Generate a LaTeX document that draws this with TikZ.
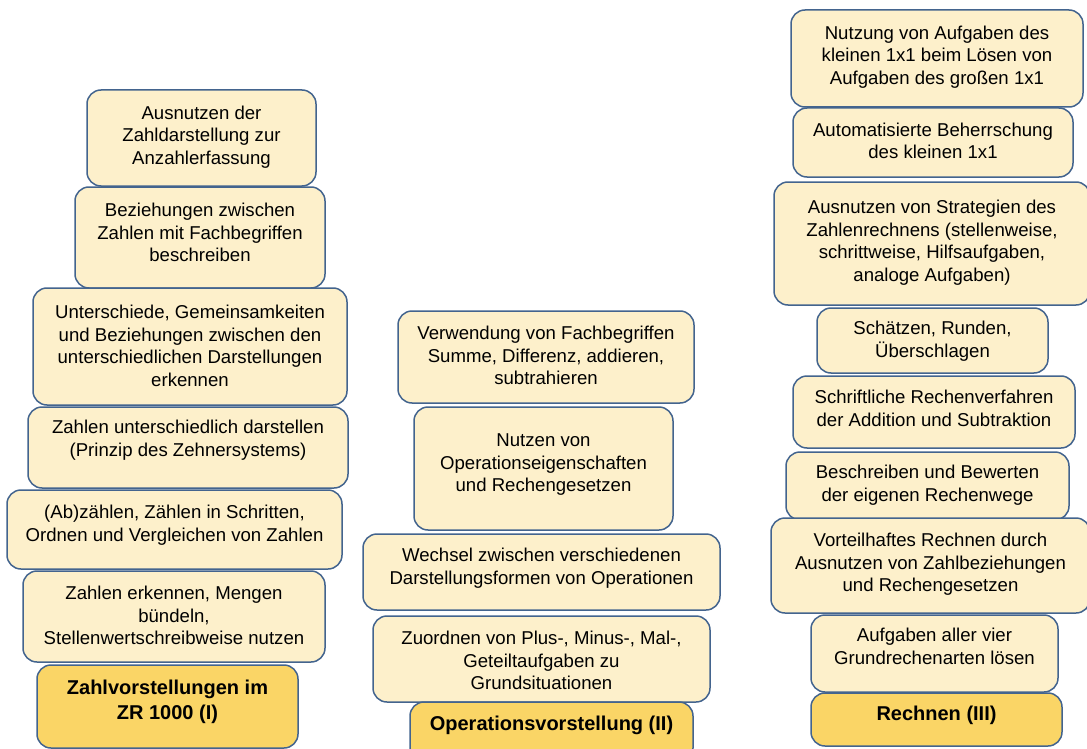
\documentclass[tikz,border=0pt]{standalone}
\usepackage{fontspec}
\setmainfont{Liberation Sans}
\definecolor{cream}{HTML}{FDF0CB}
\definecolor{gold}{HTML}{FAD566}
\definecolor{edge}{HTML}{43648E}
\tikzset{
  tile/.style={draw=edge, line width=1.5pt, rounded corners=14pt, fill=cream,
    inner sep=0pt, outer sep=0pt, font=\fontsize{18.6}{22.5}\selectfont},
  headtile/.style={tile, fill=gold, font=\fontsize{20}{25}\selectfont\bfseries},
}
% #1 style, #2 name, #3 left, #4 top, #5 right, #6 bottom, #7 first baseline, #8 text
\newcommand\tilenode[8]{%
  \node[#1] (#2) at ({(#3+#5)/2},{(#4+#6)/2})
    {\parbox[c][\dimexpr #6pt-#4pt\relax][t]{\dimexpr #5pt-#3pt\relax}{\centering
      \vspace*{\dimexpr #7pt-#4pt-\ht\strutbox\relax}\strut #8}};
}
\begin{document}
\begin{tikzpicture}[x=1pt,y=-1pt]
\fill[white] (0,0) rectangle (1087,749);
\useasboundingbox (0,0) rectangle (1087,749);

% Column I: number concepts
\tilenode{tile}{a1}{87}{90}{316}{186}{119.5}{Ausnutzen der\\Zahldarstellung zur\\Anzahlerfassung}
\tilenode{tile}{a2}{75}{187}{325}{288}{216.5}{Beziehungen zwischen\\Zahlen mit Fachbegriffen\\beschreiben}
\tilenode{tile}{a3}{33}{288}{347}{405}{318.5}{Unterschiede, Gemeinsamkeiten\\und Beziehungen zwischen den\\unterschiedlichen Darstellungen\\erkennen}
\tilenode{tile}{a4}{28}{407}{348}{488}{433.5}{Zahlen unterschiedlich darstellen\\(Prinzip des Zehnersystems)}
\tilenode{tile}{a5}{7}{490}{342}{569}{518.5}{(Ab)zählen, Zählen in Schritten,\\Ordnen und Vergleichen von Zahlen}
\tilenode{tile}{a6}{23}{571}{325}{662}{599.5}{Zahlen erkennen, Mengen\\bündeln,\\Stellenwertschreibweise nutzen}
\tilenode{headtile}{a7}{37}{665}{298}{748}{694}{Zahlvorstellungen im\\ZR 1000 (I)}

% Column II: operations
\tilenode{tile}{b1}{398}{311}{694}{403}{339.5}{Verwendung von Fachbegriffen\\Summe, Differenz, addieren,\\subtrahieren}
\tilenode{tile}{b2}{414}{407}{673}{530}{446.5}{Nutzen von\\Operationseigenschaften\\und Rechengesetzen}
\tilenode{tile}{b3}{363}{534}{720}{610}{561.5}{Wechsel zwischen verschiedenen\\Darstellungsformen von Operationen}
\tilenode{tile}{b4}{373}{616}{710}{702}{644.5}{Zuordnen von Plus-, Minus-, Mal-,\\Geteiltaufgaben zu\\Grundsituationen}
\tilenode{headtile}{b5}{410}{702}{693}{762}{730}{Operationsvorstellung (II)}

% Column III: calculation
\tilenode{tile}{c1}{791}{10}{1083}{107}{39.5}{Nutzung von Aufgaben des\\kleinen 1x1 beim Lösen von\\Aufgaben des großen 1x1}
\tilenode{tile}{c2}{793}{108}{1073}{177}{136.5}{Automatisierte Beherrschung\\des kleinen 1x1}
\tilenode{tile}{c3}{774}{182}{1090}{305}{213.5}{Ausnutzen von Strategien des\\Zahlenrechnens (stellenweise,\\schrittweise, Hilfsaufgaben,\\analoge Aufgaben)}
\tilenode{tile}{c4}{817}{308}{1048}{373}{334.5}{Schätzen, Runden,\\Überschlagen}
\tilenode{tile}{c5}{793}{376}{1075}{448}{403.5}{Schriftliche Rechenverfahren\\der Addition und Subtraktion}
\tilenode{tile}{c6}{786}{452}{1069}{520}{478.5}{Beschreiben und Bewerten\\der eigenen Rechenwege}
\tilenode{tile}{c7}{771}{518}{1090}{613}{546.5}{Vorteilhaftes Rechnen durch\\Ausnutzen von Zahlbeziehungen\\und Rechengesetzen}
\tilenode{tile}{c8}{811}{615}{1058}{692}{641.5}{Aufgaben aller vier\\Grundrechenarten lösen}
\tilenode{headtile}{c9}{811}{693}{1062}{746}{720}{Rechnen (III)}
\end{tikzpicture}
\end{document}
